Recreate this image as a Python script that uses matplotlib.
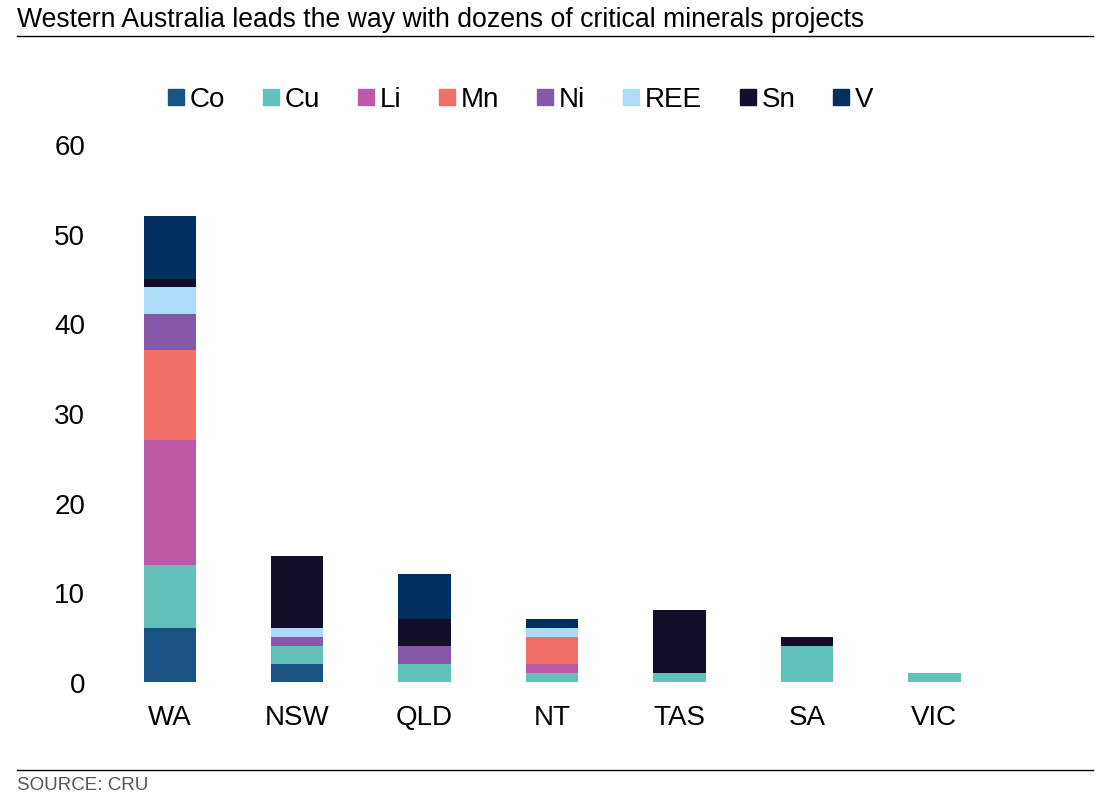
import matplotlib
matplotlib.use("Agg")
import matplotlib.pyplot as plt
import numpy as np
from matplotlib.lines import Line2D

plt.rcParams['font.family'] = ['Liberation Sans', 'DejaVu Sans']

regions = ["WA", "NSW", "QLD", "NT", "TAS", "SA", "VIC"]
minerals = ["Co", "Cu", "Li", "Mn", "Ni", "REE", "Sn", "V"]
Co  = [6, 2, 0, 0, 0, 0, 0]
Cu  = [7, 2, 2, 1, 1, 4, 1]
Li  = [14, 0, 0, 1, 0, 0, 0]
Mn  = [10, 0, 0, 3, 0, 0, 0]
Ni  = [4, 1, 2, 0, 0, 0, 0]
REE = [3, 1, 0, 1, 0, 0, 0]
Sn  = [1, 8, 3, 0, 7, 1, 0]
V   = [7, 0, 5, 1, 0, 0, 0]
series = [Co, Cu, Li, Mn, Ni, REE, Sn, V]
colors = ["#1a5283", "#62c1bb", "#bd59a7", "#f07068", "#8559a5", "#acdcfa", "#130f2b", "#00305e"]

fig = plt.figure(figsize=(11.11, 8.03), dpi=100)
ax = fig.add_axes([0.0954, 0.1494, 0.803, 0.670])

x = np.arange(len(regions))
bottom = np.zeros(len(regions))
for name, vals, c in zip(minerals, series, colors):
    v = np.array(vals, dtype=float)
    ax.bar(x, v, bottom=bottom, width=0.41, color=c, label=name)
    bottom += v

ax.set_xlim(-0.5, 6.5)
ax.set_ylim(0, 60)
ax.set_yticks([0, 10, 20, 30, 40, 50, 60])
ax.set_xticks(x)
ax.set_xticklabels(regions)
for s in ax.spines.values():
    s.set_visible(False)
ax.tick_params(axis='both', length=0, labelsize=20, colors='black')
ax.tick_params(axis='y', pad=15)
ax.tick_params(axis='x', pad=16)

handles = [Line2D([0], [0], marker='s', linestyle='none', markersize=11,
                  markerfacecolor=c, markeredgecolor=c) for c in colors]
fig.legend(handles, minerals, loc='center', bbox_to_anchor=(0.466, 0.875), ncol=8,
           frameon=False, fontsize=20, handletextpad=0.0, columnspacing=1.15,
           handlelength=1.0)

fig.text(17/1111, 1 - 20/803, "Western Australia leads the way with dozens of critical minerals projects",
         fontsize=19.2, ha='left', va='center')
fig.add_artist(Line2D([17/1111, 1093/1111], [1 - 37/803, 1 - 37/803], color='black', linewidth=1))
fig.add_artist(Line2D([17/1111, 1093/1111], [1 - 771/803, 1 - 771/803], color='black', linewidth=1))
fig.text(17/1111, 1 - 786/803, "SOURCE: CRU", fontsize=13.5, ha='left', va='center', color='#555555')

fig.savefig("out.png", dpi=100)
